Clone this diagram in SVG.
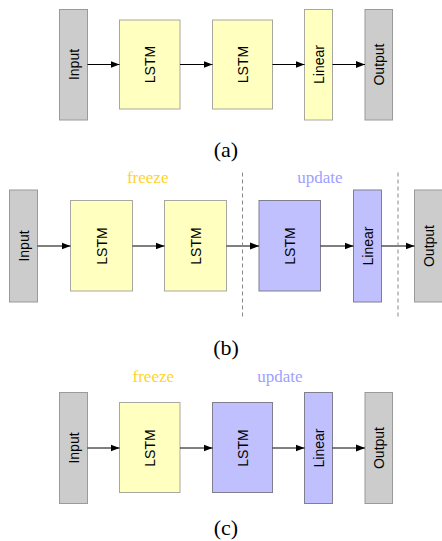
<svg xmlns="http://www.w3.org/2000/svg" width="442" height="541" viewBox="0 0 442 541">
<defs>
<style>
.io{fill:#cccccc;stroke:#9a9a9a;stroke-width:1}
.fr{fill:#ffffc0;stroke:#a8a8a0;stroke-width:1}
.up{fill:#c0c0ff;stroke:#7f7f8f;stroke-width:1}
.t{font-family:"Liberation Sans",Arial,sans-serif;font-size:14px;fill:#000;text-anchor:middle;dominant-baseline:central}
.cap{font-family:"Liberation Serif","Times New Roman",serif;font-size:22px;fill:#000;text-anchor:middle}
.fz{font-family:"Liberation Serif","Times New Roman",serif;font-size:17px;fill:#ffd42a;text-anchor:middle}
.ud{font-family:"Liberation Serif","Times New Roman",serif;font-size:17px;fill:#a0a0ff;text-anchor:middle}
.c{stroke:#000;stroke-width:1;fill:none;marker-end:url(#ah)}
.d{stroke:#888;stroke-width:1;stroke-dasharray:4,3;fill:none}
</style>
<marker id="ah" markerWidth="10" markerHeight="8" refX="9" refY="4" orient="auto" markerUnits="userSpaceOnUse">
<path d="M0,0.5 L9,4 L0,7.5 Z" fill="#000"/>
</marker>
</defs>

<!-- (a) -->
<g id="a-input"><rect class="io" x="59.5" y="9.5" width="28" height="110.5"/><text class="t" transform="translate(73.5,64.5) rotate(-90)">Input</text></g>
<g id="a-lstm1"><rect class="fr" x="119.5" y="20" width="60.5" height="89"/><text class="t" transform="translate(149.8,64.5) rotate(-90)">LSTM</text></g>
<g id="a-lstm2"><rect class="fr" x="212.5" y="20" width="60" height="89"/><text class="t" transform="translate(242.5,64.5) rotate(-90)">LSTM</text></g>
<g id="a-linear"><rect class="fr" x="304.5" y="9.5" width="28" height="110.5"/><text class="t" transform="translate(318.5,64.5) rotate(-90)">Linear</text></g>
<g id="a-output"><rect class="io" x="365" y="9.5" width="27.5" height="110.5"/><text class="t" transform="translate(378.8,64.5) rotate(-90)">Output</text></g>
<g id="a-connectors">
<line class="c" x1="87.5" y1="64.5" x2="119.5" y2="64.5"/>
<line class="c" x1="180" y1="64.5" x2="212.5" y2="64.5"/>
<line class="c" x1="272.5" y1="64.5" x2="304.5" y2="64.5"/>
<line class="c" x1="332.5" y1="64.5" x2="365" y2="64.5"/>
</g>
<text class="cap" x="226" y="157">(a)</text>

<!-- (b) -->
<text class="fz" x="147.7" y="182.5">freeze</text>
<text class="ud" x="320" y="182.5">update</text>
<g id="b-input"><rect class="io" x="9.5" y="190" width="28" height="112"/><text class="t" transform="translate(23.5,246) rotate(-90)">Input</text></g>
<g id="b-lstm1"><rect class="fr" x="70.5" y="200.5" width="62" height="90.5"/><text class="t" transform="translate(101.5,246) rotate(-90)">LSTM</text></g>
<g id="b-lstm2"><rect class="fr" x="164.5" y="200.5" width="62" height="90.5"/><text class="t" transform="translate(195.5,246) rotate(-90)">LSTM</text></g>
<g id="b-lstm3"><rect class="up" x="259" y="200.5" width="61.5" height="90.5"/><text class="t" transform="translate(289.8,246) rotate(-90)">LSTM</text></g>
<g id="b-linear"><rect class="up" x="353.5" y="190" width="28" height="112"/><text class="t" transform="translate(367.5,246) rotate(-90)">Linear</text></g>
<g id="b-output"><rect class="io" x="414.5" y="190" width="28" height="112"/><text class="t" transform="translate(428.5,246) rotate(-90)">Output</text></g>
<g id="b-connectors">
<line class="c" x1="37.5" y1="246" x2="70.5" y2="246"/>
<line class="c" x1="132.5" y1="246" x2="164.5" y2="246"/>
<line class="c" x1="226.5" y1="246" x2="259" y2="246"/>
<line class="c" x1="320.5" y1="246" x2="353.5" y2="246"/>
<line class="c" x1="381.5" y1="246" x2="414.5" y2="246"/>
<line class="d" x1="242.5" y1="172.5" x2="242.5" y2="319.5"/>
<line class="d" x1="398" y1="172.5" x2="398" y2="319.5"/>
</g>
<text class="cap" x="226" y="355">(b)</text>

<!-- (c) -->
<text class="fz" x="153.3" y="381.5">freeze</text>
<text class="ud" x="280" y="381.5">update</text>
<g id="c-input"><rect class="io" x="59.5" y="392.5" width="28" height="111"/><text class="t" transform="translate(73.5,448) rotate(-90)">Input</text></g>
<g id="c-lstm1"><rect class="fr" x="119.5" y="402.5" width="60.5" height="90"/><text class="t" transform="translate(149.8,448) rotate(-90)">LSTM</text></g>
<g id="c-lstm2"><rect class="up" x="212.5" y="402.5" width="60" height="90"/><text class="t" transform="translate(242.5,448) rotate(-90)">LSTM</text></g>
<g id="c-linear"><rect class="up" x="304.5" y="392.5" width="28" height="111"/><text class="t" transform="translate(318.5,448) rotate(-90)">Linear</text></g>
<g id="c-output"><rect class="io" x="365" y="392.5" width="27.5" height="111"/><text class="t" transform="translate(378.8,448) rotate(-90)">Output</text></g>
<g id="c-connectors">
<line class="c" x1="87.5" y1="448" x2="119.5" y2="448"/>
<line class="c" x1="180" y1="448" x2="212.5" y2="448"/>
<line class="c" x1="272.5" y1="448" x2="304.5" y2="448"/>
<line class="c" x1="332.5" y1="448" x2="365" y2="448"/>
</g>
<text class="cap" x="226" y="535">(c)</text>
</svg>
